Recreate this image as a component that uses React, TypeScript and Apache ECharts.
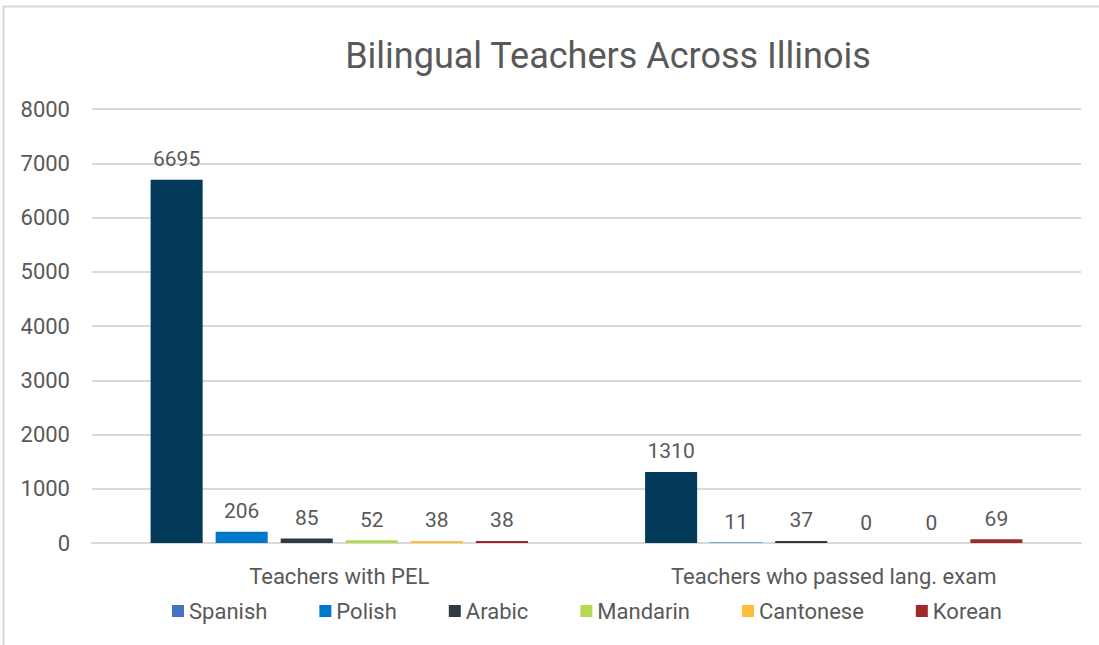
import React, { useEffect, useRef } from "react";
import * as echarts from "echarts";

const categories = ["Teachers with PEL", "Teachers who passed lang. exam"];
const languages = ["Spanish", "Polish", "Arabic", "Mandarin", "Cantonese", "Korean"];
const spanish = [6695, 1310];
const polish = [206, 11];
const arabic = [85, 37];
const mandarin = [52, 0];
const cantonese = [38, 0];
const korean = [38, 69];
const seriesValues = [spanish, polish, arabic, mandarin, cantonese, korean];
const barColors = ["#033A5A", "#0077C8", "#2E3B45", "#B5D950", "#FDBE3B", "#9E2A2B"];
const legendColors = ["#4472C4", "#0077C8", "#2E3B45", "#B5D950", "#FDBE3B", "#9E2A2B"];
const yTicks = [0, 1000, 2000, 3000, 4000, 5000, 6000, 7000, 8000];

const FONT = "Roboto";
const TEXT = "#595959";

export default function App() {
  const ref = useRef<HTMLDivElement>(null);
  useEffect(() => {
    if (!ref.current) return;
    const chart = echarts.init(ref.current, null, { renderer: "svg" });
    chart.setOption({
      animation: false,
      backgroundColor: "#ffffff",
      title: {
        text: "Bilingual Teachers Across Illinois",
        left: 603,
        textAlign: "center",
        top: 33,
        textStyle: { fontFamily: FONT, fontSize: 36, fontWeight: "normal", color: TEXT },
      },
      graphic: [
        { type: "line", shape: { x1: 3, y1: 6.5, x2: 1099, y2: 6.5 }, style: { stroke: "#D9D9D9", lineWidth: 2 } },
        { type: "line", shape: { x1: 3.5, y1: 6, x2: 3.5, y2: 645 }, style: { stroke: "#D9D9D9", lineWidth: 2 } },
      ],
      legend: {
        bottom: 18,
        left: 167,
        itemWidth: 12,
        itemHeight: 12,
        itemGap: 52,
        icon: "rect",
        textStyle: { fontFamily: FONT, fontSize: 22, color: TEXT },
        data: languages.map((n, i) => ({ name: n, itemStyle: { color: legendColors[i] } })),
      },
      grid: { left: 92, right: 18, top: 109, bottom: 102, containLabel: false },
      xAxis: {
        type: "category",
        data: categories,
        axisLine: { show: true, lineStyle: { color: "#D9D9D9", width: 2 } },
        axisTick: { show: false },
        axisLabel: { fontFamily: FONT, fontSize: 22, color: TEXT, margin: 22 },
      },
      yAxis: {
        type: "value",
        min: yTicks[0],
        max: yTicks[yTicks.length - 1],
        interval: 1000,
        axisLine: { show: false },
        axisTick: { show: false },
        splitLine: { lineStyle: { color: "#D9D9D9", width: 2 } },
        axisLabel: {
          fontFamily: FONT,
          fontSize: 22,
          color: TEXT,
          margin: 22,
          formatter: (v: number) => String(v),
        },
      },
      series: languages.map((n, i) => ({
        name: n,
        type: "bar",
        data: seriesValues[i],
        barGap: "25%",
        barCategoryGap: "23.7%",
        itemStyle: { color: barColors[i] },
        label: {
          show: true,
          position: "top",
          distance: 10,
          fontFamily: FONT,
          fontSize: 21,
          color: TEXT,
        },
      })),
    });
    return () => chart.dispose();
  }, []);
  return (
    <div
      ref={ref}
      style={{ position: "fixed", left: 0, top: 0, width: 1099, height: 645 }}
    />
  );
}
